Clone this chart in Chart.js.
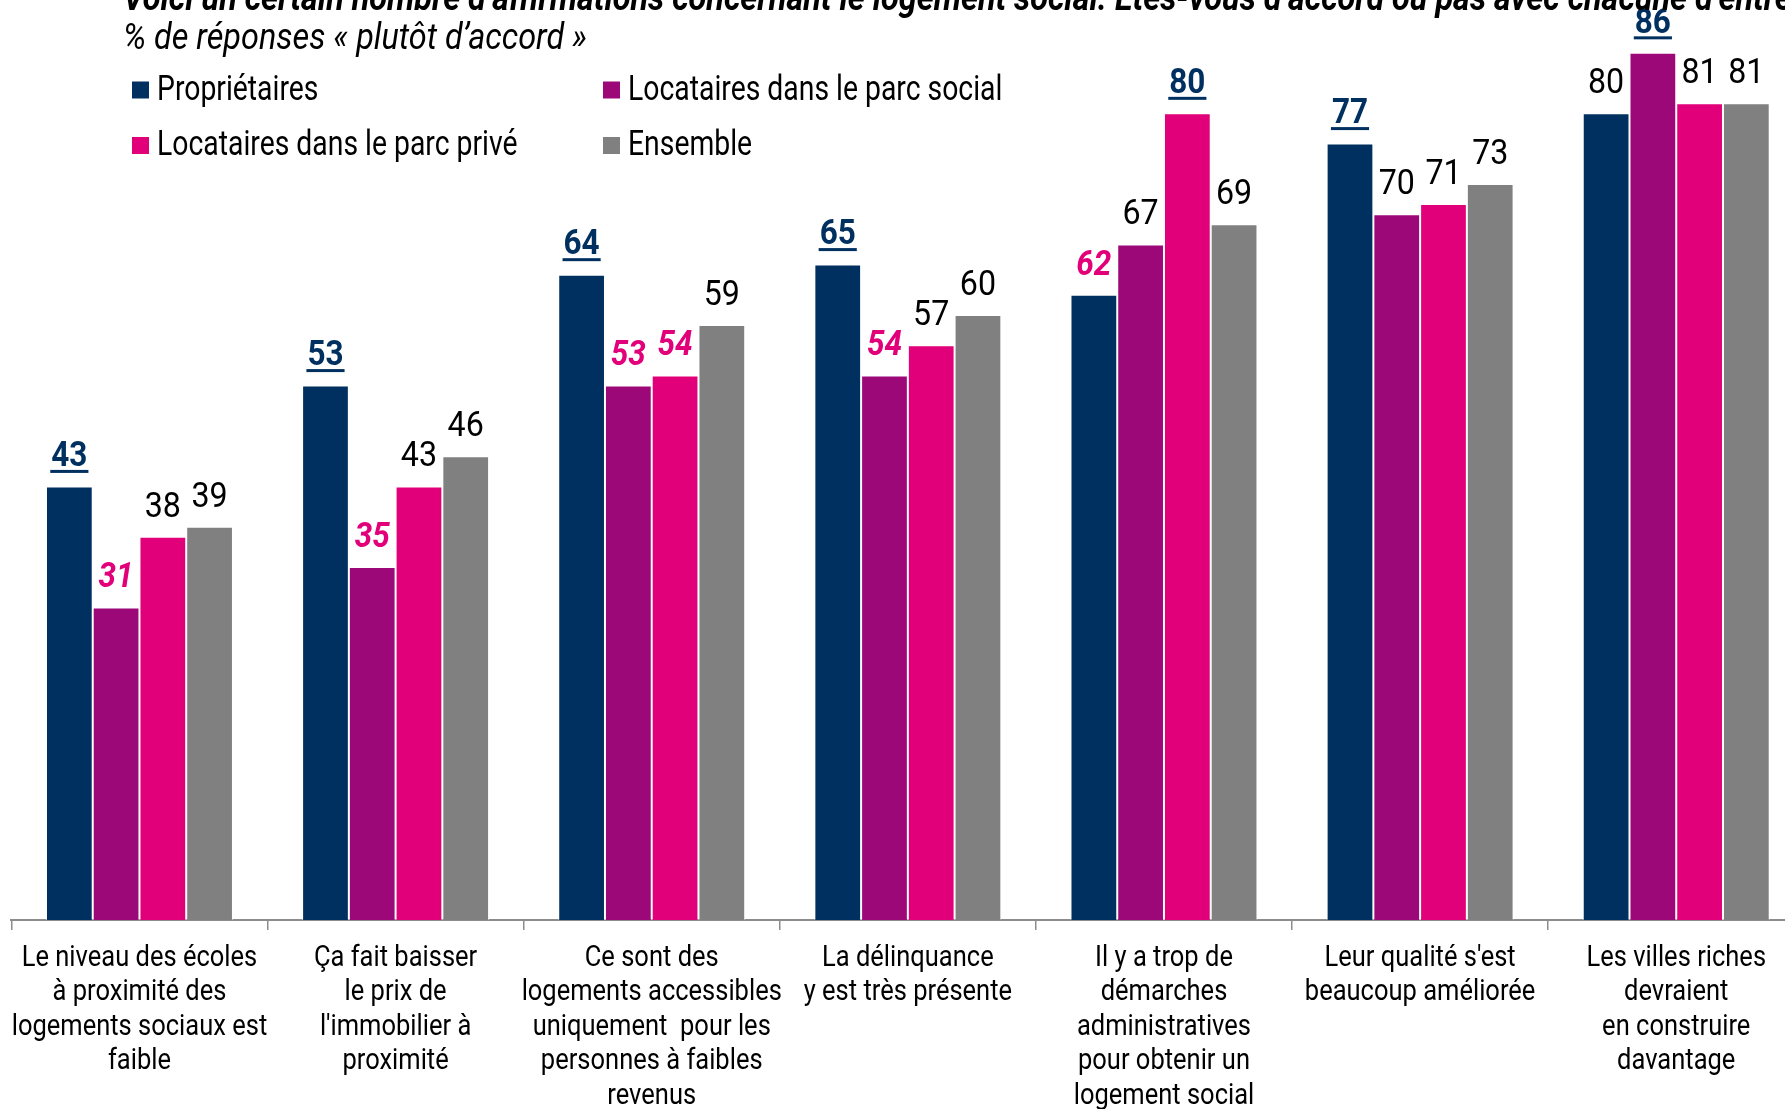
<!DOCTYPE html>
<html>
<head>
<meta charset="utf-8">
<script src="https://cdn.jsdelivr.net/npm/chart.js@4.4.1/dist/chart.umd.min.js"></script>
<style>
  html, body { margin: 0; padding: 0; background: #ffffff; overflow: hidden; width: 1785px; height: 1109px; }
  canvas { display: block; }
</style>
</head>
<body>
<canvas id="chart" width="1810" height="1109"></canvas>
<script>
const FONT = "Roboto, 'Liberation Sans', sans-serif";

const titleLines = [
  "Voici un certain nombre d’affirmations concernant le logement social. Etes-vous d’accord ou pas avec chacune d’entre elles ?",
  "% de réponses « plutôt d’accord »"
];

const categories = [
  ["Le niveau des écoles", "à proximité des", "logements sociaux est", "faible"],
  ["Ça fait baisser", "le prix de", "l'immobilier à", "proximité"],
  ["Ce sont des", "logements accessibles", "uniquement  pour les", "personnes à faibles", "revenus"],
  ["La délinquance", "y est très présente"],
  ["Il y a trop de", "démarches", "administratives", "pour obtenir un", "logement social"],
  ["Leur qualité s'est", "beaucoup améliorée"],
  ["Les villes riches", "devraient", "en construire", "davantage"]
];

const seriesNames = ["Propriétaires", "Locataires dans le parc social", "Locataires dans le parc privé", "Ensemble"];

const proprietaires = [43, 53, 64, 65, 62, 77, 80];
const locatairesSocial = [31, 35, 53, 54, 67, 70, 86];
const locatairesPrive = [38, 43, 54, 57, 80, 71, 81];
const ensemble = [39, 46, 59, 60, 69, 73, 81];

// [series index, category index] of results significantly below the others
const significantlyLower = [[1, 0], [1, 1], [1, 2], [2, 2], [1, 3], [0, 4]];

const seriesColors = ["#00305F", "#9C0878", "#E2007A", "#808080"];
const NAVY = "#00305F";
const PINK = "#E2007A";

const isLower = (i, j) => significantlyLower.some(p => p[0] === i && p[1] === j);

// Draws a string with a narrow (horizontally condensed) look
function drawText(ctx, txt, x, y, font, color, align, sx) {
  ctx.save();
  ctx.font = font;
  ctx.fillStyle = color;
  ctx.textAlign = align;
  ctx.translate(x, y);
  ctx.scale(sx, 1);
  ctx.fillText(txt, 0, 0);
  const w = ctx.measureText(txt).width * sx;
  ctx.restore();
  return w;
}

// Percentage labels above every bar
const valueLabels = {
  id: "valueLabels",
  afterDatasetsDraw(chart) {
    const ctx = chart.ctx;
    ctx.save();
    ctx.textBaseline = "middle";
    const n = chart.data.labels.length;
    for (let j = 0; j < n; j++) {
      const vals = chart.data.datasets.map(d => d.data[j]);
      const max = Math.max(...vals);
      chart.data.datasets.forEach((ds, i) => {
        const bar = chart.getDatasetMeta(i).data[j];
        const v = ds.data[j];
        const x = bar.x;
        const y = bar.y - 29;
        const txt = String(v);
        if (v === max) {
          const w = drawText(ctx, txt, x, y, `bold 35px ${FONT}`, NAVY, "center", 0.9);
          ctx.fillStyle = NAVY;
          ctx.fillRect(x - w / 2 - 1, y + 12.5, w + 2, 3);
        } else if (isLower(i, j)) {
          drawText(ctx, txt, x, y, `italic bold 35px ${FONT}`, PINK, "center", 0.9);
        } else {
          drawText(ctx, txt, x, y, `35px ${FONT}`, "#000000", "center", 0.92);
        }
      });
    }
    ctx.restore();
  }
};

// Multi-line category labels under the axis
const categoryLabels = {
  id: "categoryLabels",
  afterDraw(chart) {
    const ctx = chart.ctx;
    const xs = chart.scales.x;
    ctx.save();
    ctx.textBaseline = "middle";
    chart.data.labels.forEach((lines, j) => {
      const x = xs.getPixelForValue(j);
      lines.forEach((line, k) => {
        drawText(ctx, line, x, xs.top + 38 + k * 34.6, `30px ${FONT}`, "#000000", "center", 0.85);
      });
    });
    ctx.restore();
  }
};

// Title lines and the two-column legend
const headerAndLegend = {
  id: "headerAndLegend",
  afterDraw(chart) {
    const ctx = chart.ctx;
    ctx.save();
    ctx.textBaseline = "alphabetic";
    drawText(ctx, titleLines[0], 123, 10, `italic bold 36px ${FONT}`, "#000000", "left", 0.9);
    drawText(ctx, titleLines[1], 123, 49, `italic 36px ${FONT}`, "#000000", "left", 0.9);

    ctx.textBaseline = "middle";
    const colX = [132, 603];
    const rowY = [90, 145.5];
    chart.data.datasets.forEach((ds, i) => {
      const x = colX[i % 2];
      const y = rowY[Math.floor(i / 2)];
      ctx.fillStyle = ds.backgroundColor;
      ctx.fillRect(x, y - 8.5, 17, 17);
      drawText(ctx, ds.label, x + 25, y + 1, `35px ${FONT}`, "#000000", "left", 0.81);
    });
    ctx.restore();
  }
};

const seriesData = [proprietaires, locatairesSocial, locatairesPrive, ensemble];

new Chart(document.getElementById("chart"), {
  type: "bar",
  data: {
    labels: categories,
    datasets: seriesNames.map((name, i) => ({
      label: name,
      data: seriesData[i],
      backgroundColor: seriesColors[i],
      borderColor: "rgba(255,255,255,0.55)",
      borderWidth: 1,
      categoryPercentage: 0.73,
      barPercentage: 1.0
    }))
  },
  options: {
    responsive: false,
    animation: false,
    devicePixelRatio: 1,
    layout: { padding: { left: 11.4, right: 5.7, top: 0, bottom: 0 } },
    plugins: {
      legend: { display: false },
      title: { display: false },
      tooltip: { enabled: false }
    },
    scales: {
      x: {
        offset: true,
        grid: {
          offset: true,
          drawOnChartArea: false,
          drawTicks: true,
          tickLength: 10,
          color: "#8C8C8C",
          lineWidth: 1.5
        },
        border: { display: true, color: "#8C8C8C", width: 2 },
        ticks: { display: false },
        afterFit(scale) {
          scale.height = 189;
          scale.paddingLeft = 0;
          scale.paddingRight = 0;
        }
      },
      y: {
        display: false,
        min: 0,
        max: 91.24
      }
    }
  },
  plugins: [valueLabels, categoryLabels, headerAndLegend]
});
</script>
</body>
</html>
